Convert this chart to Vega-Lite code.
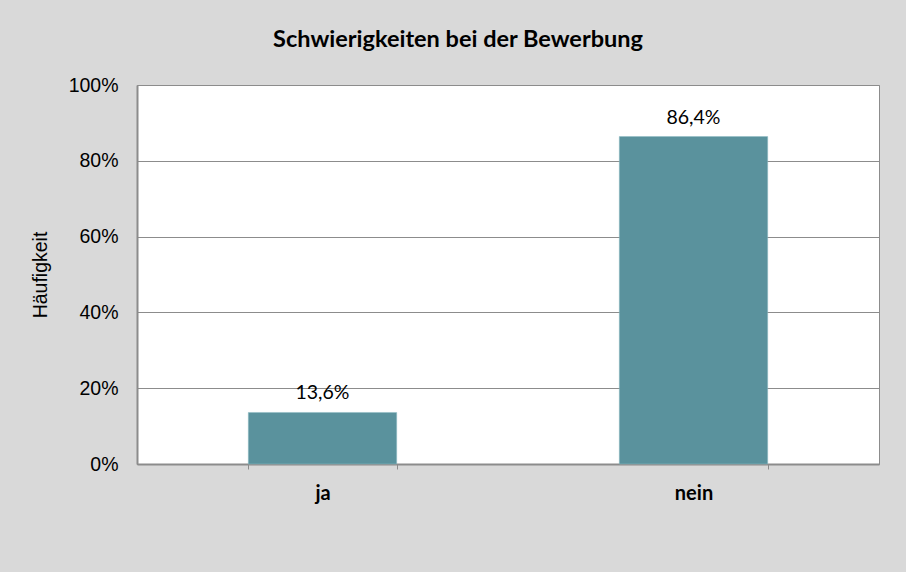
{
  "$schema": "https://vega.github.io/schema/vega-lite/v6.json",
  "autosize": {"type": "none"},
  "width": 742,
  "height": 379,
  "padding": {"left": 137, "top": 85, "right": 27, "bottom": 108},
  "background": "#d9d9d9",
  "config": {
    "locale": {"number": {"decimal": ",", "thousands": ".", "grouping": [3], "currency": ["", " €"]}},
    "view": {"fill": "white", "stroke": "#8c8c8c", "strokeWidth": 1}
  },
  "title": {
    "text": "Schwierigkeiten bei der Bewerbung",
    "font": "Lato",
    "fontSize": 23.5,
    "fontWeight": "bold",
    "color": "#000000",
    "anchor": "middle",
    "dx": -50,
    "baseline": "alphabetic",
    "offset": 5
  },
  "data": {
    "values": [
      {"antwort": "ja", "anteil": 0.136},
      {"antwort": "nein", "anteil": 0.864}
    ]
  },
  "encoding": {
    "x": {
      "field": "antwort",
      "type": "nominal",
      "sort": null,
      "scale": {"paddingInner": 0.6, "paddingOuter": 0.3},
      "axis": {
        "title": null,
        "labelAngle": 0,
        "labelFont": "Lato",
        "labelFontSize": 20,
        "labelFontWeight": "bold",
        "labelColor": "#000000",
        "labelBaseline": "alphabetic",
        "labelPadding": 30,
        "tickBand": "extent",
        "tickSize": 5,
        "tickColor": "#8c8c8c",
        "domainColor": "#8c8c8c",
        "domainWidth": 2,
        "grid": false
      }
    },
    "y": {
      "field": "anteil",
      "type": "quantitative",
      "scale": {"domain": [0, 1]},
      "axis": {
        "title": "Häufigkeit",
        "titleFont": "Liberation Sans",
        "titleFontSize": 19.5,
        "titleFontWeight": "normal",
        "titleColor": "#000000",
        "titlePadding": 18,
        "format": ".0%",
        "values": [0, 0.2, 0.4, 0.6, 0.8, 1],
        "labelFont": "Liberation Sans",
        "labelFontSize": 19.5,
        "labelColor": "#000000",
        "labelPadding": 19,
        "ticks": false,
        "domainColor": "#8c8c8c",
        "domainWidth": 2,
        "grid": true,
        "gridColor": "#8c8c8c",
        "gridWidth": 1
      }
    }
  },
  "layer": [
    {
      "mark": {"type": "bar", "color": "#5a929d", "stroke": "#8fbcc4", "strokeWidth": 0.5}
    },
    {
      "mark": {"type": "text", "font": "Lato", "fontSize": 19.5, "color": "#000000", "baseline": "alphabetic", "dy": -13},
      "encoding": {
        "text": {"field": "anteil", "type": "quantitative", "format": ".1%"}
      }
    }
  ]
}
